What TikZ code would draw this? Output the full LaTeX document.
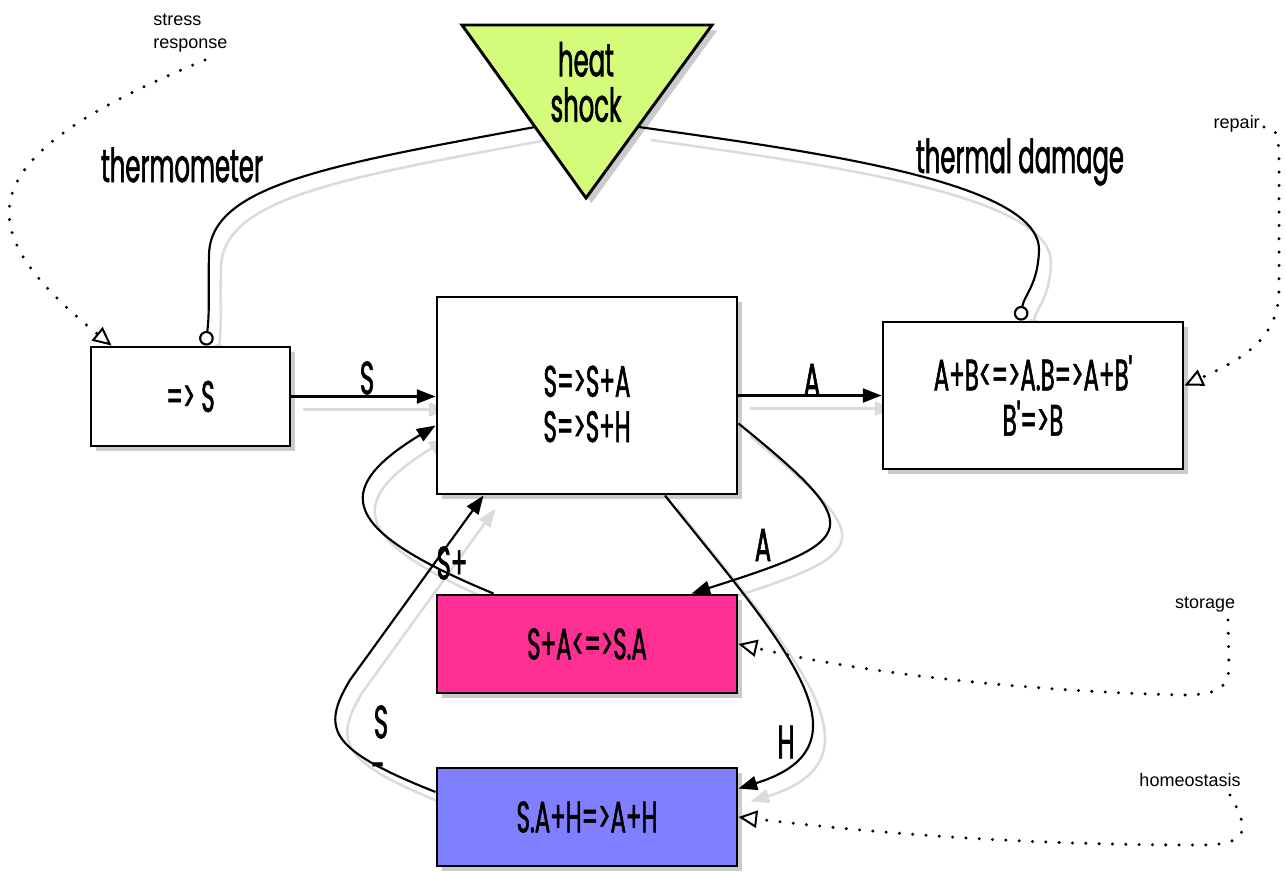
\documentclass[tikz,border=0pt]{standalone}
\usepackage{fontspec}
\newfontfamily\condf[FakeStretch=0.52,FakeBold=1.3]{Poppins}
\newfontfamily\smallf{Liberation Sans}
\usetikzlibrary{arrows.meta,calc,shadows,backgrounds}
\definecolor{triFill}{HTML}{D4FC7A}
\definecolor{pinkFill}{HTML}{FF3093}
\definecolor{blueFill}{HTML}{7F7FFF}
\newcommand\link[2]{%
  \begin{scope}[on background layer]
    \begin{scope}[transform canvas={shift={(12,13)}}]
      \draw[#1,draw=black!14,line width=1.9pt] #2;
    \end{scope}
  \end{scope}
  \draw[#1] #2;}
\begin{document}
\begin{tikzpicture}[x=0.75pt,y=-0.75pt,
  shad/.style={drop shadow={shadow xshift=4pt,shadow yshift=-4pt,fill=black!45,opacity=.45}},
  box/.style={draw,line width=2.2pt,fill=white,shad,align=center,inner sep=0pt,
    font=\condf\fontsize{33}{34}\selectfont},
  txt/.style={font=\condf\fontsize{33}{34}\selectfont,align=center,inner sep=0pt},
  lbl/.style={font=\condf\fontsize{35}{34}\selectfont,align=center,inner sep=0pt},
  slbl/.style={font=\smallf\fontsize{13.5}{17}\selectfont,inner sep=0pt},
  conn/.style={line width=1.6pt},
  act/.style={conn,-{Triangle[length=14pt,width=10.5pt]}},
  circ/.style={conn,-{Circle[length=11pt,width=11pt,fill=white]}},
  dots/.style={line width=2.5pt,line cap=round,dash pattern=on 0pt off 10pt,
    -{Triangle[open,length=14pt,width=13pt,line width=1.5pt,fill=white]}},
]
\useasboundingbox (0,0) rectangle (1287,872);

% heat shock triangle
\coordinate (tA) at (462,25);
\coordinate (tB) at (712,25);
\coordinate (tC) at (586,198);
\filldraw[fill=triFill,line width=2.2pt,line join=miter,shad] (tA) -- (tB) -- (tC) -- cycle;
\node[lbl] (hs) at (586,82) {heat\\shock};
\coordinate (tl) at (535,127);
\coordinate (tr) at (639,127);

% boxes
\node[box,minimum width=149.25pt,minimum height=74.25pt] (s0) at (190.5,396.5) {=> S};
\node[box,minimum width=225pt,minimum height=147.75pt] (mid) at (587,395.5) {};
\node[txt] (midt) at (587,404) {S=>S+A\\S=>S+H};
\node[box,minimum width=225pt,minimum height=110.25pt] (rb) at (1033,395.5) {A+B<=>A.B=>A+B'\\B'=>B};
\node[box,fill=pinkFill,minimum width=225pt,minimum height=73.5pt] (pk) at (587,644) {S+A<=>S.A};
\node[box,fill=blueFill,minimum width=225pt,minimum height=73.5pt] (bl) at (587,817) {S.A+H=>A+H};

% solid connectors
\link{circ}{(tl) .. controls (330,165) and (210,185) .. (209,255) .. controls (208,290) and (210,310) .. ($(s0.north)+(15,0)$)}
\link{circ}{(tr) .. controls (800,150) and (1040,180) .. (1039,250) .. controls (1038,285) and (1024,295) .. ($(rb.north)+(-13,0)$)}
\link{act}{(s0.east) -- (s0.east -| mid.west)}
\link{act}{(mid.east) -- (mid.east -| rb.west)}
\link{act}{($(pk.north west)+(58,0)$) .. controls (340,530) and (330,490) .. ($(mid.west)+(0,30)$)}
\link{act}{($(bl.west)+(0,-25)$) .. controls (330,750) and (320,730) .. (350,680) -- ($(mid.south west)+(48,0)$)}
\link{act}{($(mid.east)+(0,28)$) .. controls (870,530) and (860,540) .. ($(pk.north east)+(-47,0)$)}
\link{act}{($(mid.south)+(78,0)$) .. controls (780,640) and (880,745) .. ($(bl.north east)+(0,22)$)}

% labels
\node[lbl] (lth) at (182,165) {thermometer};
\node[lbl] (ltd) at (1020,162) {thermal damage};
\node[lbl] (lS1) at (367,378) {S};
\node[lbl] (lA1) at (812,380) {A};
\node[lbl] (lA2) at (763,545) {A};
\node[lbl] (lH) at (786,742) {H};
\node[lbl] (lSp) at (452,563) {S+};
\node[lbl] (lS2) at (381,722) {S};
\node[lbl] (lm) at (378,772) {-};

% annotations
\node[slbl,align=left,anchor=west] (sr) at (153,33) {stress\\response};
\node[slbl,anchor=east] (rp) at (1260,124) {repair};
\node[slbl] (st) at (1205,605) {storage};
\node[slbl] (ho) at (1190,780) {homeostasis};

\draw[dots] (205,60) .. controls (-40,160) and (-30,230) .. ($(s0.north west)+(22,0)$);
\draw[dots] (1264,127) .. controls (1280,127) and (1279,140) .. (1279,180) -- (1279,290) .. controls (1279,340) and (1240,360) .. ($(rb.east)+(0,-10)$);
\draw[dots] (1228,620) -- (1229,665) .. controls (1229,690) and (1215,695) .. (1180,695) .. controls (1000,690) and (850,670) .. (pk.east);
\draw[dots] (1230,795) .. controls (1250,830) and (1250,845) .. (1200,845) .. controls (1000,845) and (850,830) .. (bl.east);
\end{tikzpicture}
\end{document}
